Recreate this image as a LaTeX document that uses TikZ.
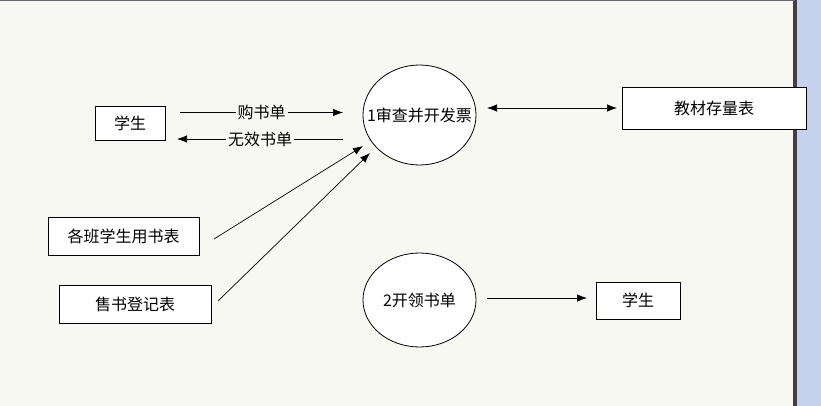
\documentclass[tikz,border=0pt]{standalone}
\usepackage{fontspec}
\setmainfont{Noto Sans CJK SC}
\usetikzlibrary{shapes.geometric,arrows.meta}
\definecolor{bgc}{HTML}{F8F8F3}
\definecolor{stripc}{HTML}{C6D2EE}
\definecolor{edgec}{HTML}{404048}
\begin{document}
\begin{tikzpicture}[x=1pt,y=-1pt,
  every node/.style={font=\fontsize{16}{18}\selectfont, inner sep=0pt},
  ent/.style={draw=black, fill=white, line width=0.9pt, rectangle, anchor=center},
  proc/.style={draw=black, fill=white, line width=0.8pt, ellipse, minimum width=113pt, minimum height=100pt},
  arr/.style={line width=0.7pt, -{Latex[length=10pt,width=7.5pt]}},
  darr/.style={line width=0.7pt, {Latex[length=10pt,width=7.5pt]}-{Latex[length=10pt,width=7.5pt]}},
  lbl/.style={fill=bgc, inner xsep=2pt, inner ysep=1pt}
]
\useasboundingbox (0,0) rectangle (821,406);
\fill[bgc] (0,0) rectangle (821,406);
\fill[stripc] (797,0) rectangle (821,406);
\fill[edgec] (793,0) rectangle (797,406);
\fill[edgec!80] (0,0) rectangle (795,1.5);

% entities
\node[ent, minimum width=70pt, minimum height=34pt] (s1) at (130,123) {学生};
\node[ent, minimum width=184pt, minimum height=42pt] (store) at (714,108) {教材存量表};
\node[ent, minimum width=151pt, minimum height=38pt] (cls) at (123.5,236) {各班学生用书表};
\node[ent, minimum width=152pt, minimum height=38pt] (sale) at (135,304) {售书登记表};
\node[ent, minimum width=84pt, minimum height=37pt] (s2) at (638,300.5) {学生};

% processes
\node[proc] (p1) at (419.5,115) {};
\node (p1t) at (p1.center) {1审查并开发票};
\node[proc, minimum height=94pt] (p2) at (419.5,300) {};
\node (p2t) at (p2.center) {2开领书单};

% free ends
\coordinate (a1s) at (180,112.5);
\coordinate (a1e) at (343,112.5);
\coordinate (a2s) at (343,139);
\coordinate (a2e) at (177,139);
\coordinate (ds) at (487,108);
\coordinate (de) at (617,108);
\coordinate (l1s) at (214,239);
\coordinate (l1e) at (363,146);
\coordinate (l2s) at (218,301);
\coordinate (l2e) at (370,153);
\coordinate (o1s) at (487,298);
\coordinate (o1e) at (587,298);

\draw[arr] (a1s) -- node[lbl] (t1) {购书单} (a1e);
\draw[arr] (a2s) -- node[lbl] (t2) {无效书单} (a2e);
\draw[darr] (ds) -- (de);
\draw[arr] (l1s) -- (l1e);
\draw[arr] (l2s) -- (l2e);
\draw[arr] (o1s) -- (o1e);
\end{tikzpicture}
\end{document}
